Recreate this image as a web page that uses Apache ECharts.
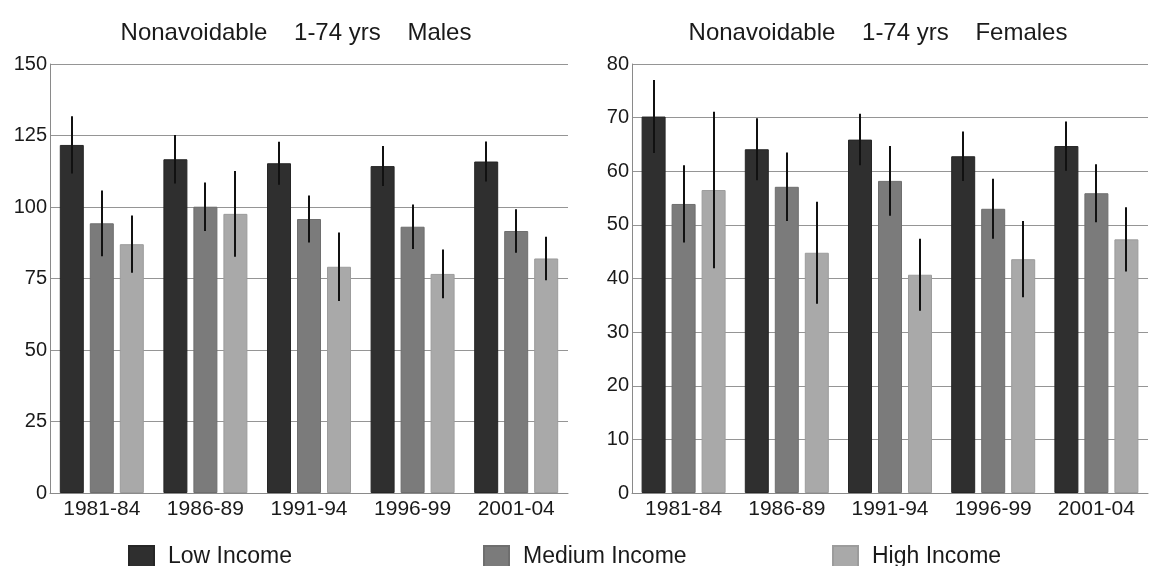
<!DOCTYPE html>
<html>
<head>
<meta charset="utf-8">
<script src="https://cdn.jsdelivr.net/npm/echarts@6/dist/echarts.min.js"></script>
<style>
  html, body { margin: 0; padding: 0; background: #fff; }
  #chart { width: 1150px; height: 566px; }
</style>
</head>
<body>
<div id="chart"></div>
<script>
// Periods on the x axis
const categories = ['1981-84', '1986-89', '1991-94', '1996-99', '2001-04'];
const groups = ['Low Income', 'Medium Income', 'High Income'];

// Males, 1-74 yrs: rates and half-width of the error bars
const maleLow = [121.7, 116.7, 115.3, 114.3, 115.9];
const maleLowErr = [10.0, 8.5, 7.5, 7.0, 7.0];
const maleMedium = [94.3, 100.1, 95.8, 93.1, 91.6];
const maleMediumErr = [11.5, 8.5, 8.2, 7.8, 7.6];
const maleHigh = [87.0, 97.6, 79.1, 76.6, 82.0];
const maleHighErr = [10.0, 15.0, 12.0, 8.5, 7.6];

// Females, 1-74 yrs
const femaleLow = [70.2, 64.1, 65.9, 62.8, 64.7];
const femaleLowErr = [6.8, 5.8, 4.8, 4.6, 4.6];
const femaleMedium = [53.9, 57.1, 58.2, 53.0, 55.9];
const femaleMediumErr = [7.2, 6.4, 6.5, 5.6, 5.4];
const femaleHigh = [56.5, 44.8, 40.7, 43.6, 47.3];
const femaleHighErr = [14.6, 9.5, 6.7, 7.1, 6.0];

// Y axis ticks
const maleTicks = { min: 0, max: 150, interval: 25 };
const femaleTicks = { min: 0, max: 80, interval: 10 };

const colors = ['#2f2f2f', '#7b7b7b', '#a9a9a9'];
const borders = ['#262626', '#6e6e6e', '#9c9c9c'];
const FONT = '"Liberation Sans", Arial, sans-serif';
const BAR_W = 24;
const BAR_GAP = 6;

const chart = echarts.init(document.getElementById('chart'), null, { renderer: 'canvas' });

function barSeries(name, data, idx, axisIdx) {
  return {
    name: name,
    type: 'bar',
    xAxisIndex: axisIdx,
    yAxisIndex: axisIdx,
    data: data,
    barWidth: BAR_W,
    barGap: (BAR_GAP / BAR_W * 100) + '%',
    itemStyle: { color: colors[idx], borderColor: borders[idx], borderWidth: 1 },
    silent: true
  };
}

// Vertical error line centred on the matching bar
function errSeries(name, values, errs, idx, axisIdx) {
  const offset = (idx - 1) * (BAR_W + BAR_GAP);
  return {
    name: name,
    type: 'custom',
    xAxisIndex: axisIdx,
    yAxisIndex: axisIdx,
    z: 10,
    silent: true,
    data: values.map((v, i) => [i, v, errs[i]]),
    encode: { x: 0, y: 1 },
    renderItem: function (params, api) {
      const i = api.value(0);
      const v = api.value(1);
      const e = api.value(2);
      const top = api.coord([i, v + e]);
      const bot = api.coord([i, v - e]);
      const x = Math.round(top[0] + offset);
      return {
        type: 'line',
        shape: { x1: x, y1: top[1], x2: x, y2: bot[1] },
        style: { stroke: '#111', lineWidth: 2 }
      };
    }
  };
}

function xAxisDef(gridIndex) {
  return {
    type: 'category',
    gridIndex: gridIndex,
    data: categories,
    axisLine: { lineStyle: { color: '#8a8a8a', width: 1 } },
    axisTick: { show: false },
    axisLabel: { color: '#1a1a1a', fontSize: 21, fontFamily: FONT, margin: 6 }
  };
}

function yAxisDef(gridIndex, ticks) {
  return {
    type: 'value',
    gridIndex: gridIndex,
    min: ticks.min,
    max: ticks.max,
    interval: ticks.interval,
    axisLine: { show: true, lineStyle: { color: '#8a8a8a', width: 1 } },
    axisTick: { show: false },
    axisLabel: { color: '#1a1a1a', fontSize: 20, fontFamily: FONT, margin: 3 },
    splitLine: { lineStyle: { color: '#959595', width: 1 } }
  };
}

function legendDef(name, left) {
  return {
    data: [name],
    left: left,
    top: 545,
    padding: 0,
    itemWidth: 25,
    itemHeight: 21,
    selectedMode: false,
    icon: 'rect',
    textStyle: { color: '#1a1a1a', fontSize: 23, fontFamily: FONT, padding: [0, 0, 0, 9] }
  };
}

const option = {
  animation: false,
  backgroundColor: '#ffffff',
  title: [
    {
      text: 'Nonavoidable    1-74 yrs    Males',
      left: 291, top: 16, textAlign: 'center',
      textStyle: { color: '#1a1a1a', fontSize: 24, fontWeight: 'normal', fontFamily: FONT }
    },
    {
      text: 'Nonavoidable    1-74 yrs    Females',
      left: 873, top: 16, textAlign: 'center',
      textStyle: { color: '#1a1a1a', fontSize: 24, fontWeight: 'normal', fontFamily: FONT }
    }
  ],
  legend: [
    legendDef(groups[0], 128),
    legendDef(groups[1], 483),
    legendDef(groups[2], 832)
  ],
  grid: [
    { left: 50, right: 582, top: 64, bottom: 73 },
    { left: 632, right: 2, top: 64, bottom: 73 }
  ],
  xAxis: [xAxisDef(0), xAxisDef(1)],
  yAxis: [yAxisDef(0, maleTicks), yAxisDef(1, femaleTicks)],
  series: [
    barSeries(groups[0], maleLow, 0, 0),
    barSeries(groups[1], maleMedium, 1, 0),
    barSeries(groups[2], maleHigh, 2, 0),
    barSeries(groups[0], femaleLow, 0, 1),
    barSeries(groups[1], femaleMedium, 1, 1),
    barSeries(groups[2], femaleHigh, 2, 1),
    errSeries(groups[0], maleLow, maleLowErr, 0, 0),
    errSeries(groups[1], maleMedium, maleMediumErr, 1, 0),
    errSeries(groups[2], maleHigh, maleHighErr, 2, 0),
    errSeries(groups[0], femaleLow, femaleLowErr, 0, 1),
    errSeries(groups[1], femaleMedium, femaleMediumErr, 1, 1),
    errSeries(groups[2], femaleHigh, femaleHighErr, 2, 1)
  ]
};

chart.setOption(option);
</script>
</body>
</html>
